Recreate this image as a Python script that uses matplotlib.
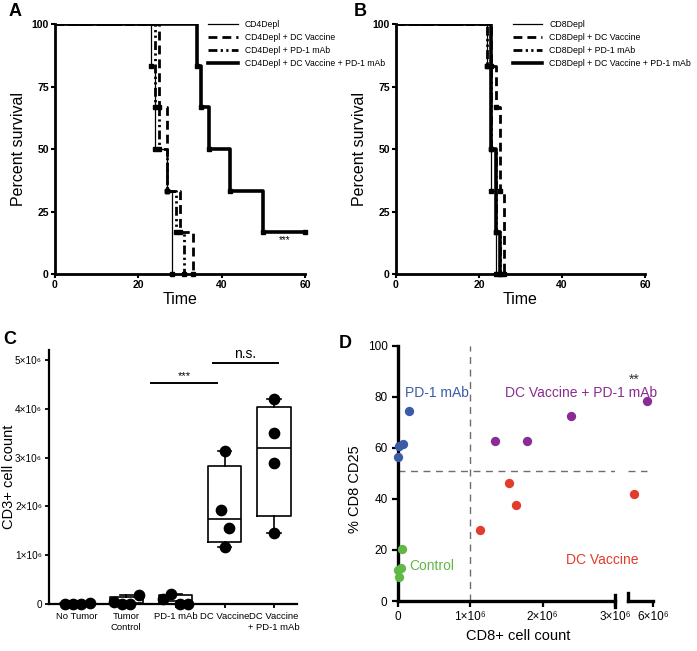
import numpy as np
import matplotlib
matplotlib.use("Agg")
import matplotlib.pyplot as plt
from matplotlib.lines import Line2D

# ---------------- data ----------------
# A: Kaplan-Meier, CD4 depleted mice (death day, survival % after that day)
cd4_labels = ["CD4Depl", "CD4Depl + DC Vaccine", "CD4Depl + PD-1 mAb",
              "CD4Depl + DC Vaccine + PD-1 mAb"]
cd4_times = [[23, 24, 27, 28],
             [25, 27, 30, 33],
             [24, 25, 27, 29, 31],
             [34, 35, 37, 42, 50]]
cd4_surv = [[83.3, 50.0, 33.3, 0.0],
            [66.7, 33.3, 16.7, 0.0],
            [66.7, 50.0, 33.3, 16.7, 0.0],
            [83.3, 66.7, 50.0, 33.3, 16.7]]
cd4_followup = [None, None, None, 60]

# B: Kaplan-Meier, CD8 depleted mice
cd8_labels = ["CD8Depl", "CD8Depl + DC Vaccine", "CD8Depl + PD-1 mAb",
              "CD8Depl + DC Vaccine + PD-1 mAb"]
cd8_times = [[22, 23, 24],
             [23, 24, 25, 26],
             [22, 23, 24, 25],
             [23, 24, 25]]
cd8_surv = [[83.3, 33.3, 0.0],
            [83.3, 66.7, 33.3, 0.0],
            [83.3, 50.0, 16.7, 0.0],
            [50.0, 16.7, 0.0]]

# C: CD3+ cell counts per group
cd3_groups = ["No Tumor", "Tumor\nControl", "PD-1 mAb", "DC Vaccine", "DC Vaccine\n+ PD-1 mAb"]
cd3_counts = [[0.005e6, 0.005e6, 0.005e6, 0.02e6],
              [0.05e6, 0.01e6, 0.01e6, 0.18e6],
              [0.10e6, 0.20e6, 0.01e6, 0.01e6],
              [3.13e6, 1.92e6, 1.56e6, 1.16e6],
              [4.20e6, 3.50e6, 2.88e6, 1.45e6]]
cd3_yticks = [0, 1e6, 2e6, 3e6, 4e6, 5e6]
cd3_yticklabels = ["0", "1×10⁶", "2×10⁶", "3×10⁶", "4×10⁶", "5×10⁶"]

# D: CD8+ count vs % CD8 CD25
d_groups = ["PD-1 mAb", "Control", "DC Vaccine + PD-1 mAb", "DC Vaccine"]
d_colors = ["#3a5ca8", "#62b846", "#8a2c92", "#e33b2c"]
d_x = [[0.15e6, 0.07e6, 0.02e6, 0.0],
       [0.05e6, 0.04e6, 0.005e6, 0.01e6],
       [1.345e6, 1.78e6, 2.39e6, 5.91e6],
       [1.13e6, 1.53e6, 1.63e6, 5.73e6]]
d_y = [[74.5, 61.5, 60.8, 56.5],
       [20.3, 13.1, 12.0, 9.4],
       [62.7, 62.7, 72.5, 78.3],
       [27.7, 46.3, 37.8, 42.1]]
d_xcut = 1e6
d_ycut = 51
d_xticks_left = [0, 1e6, 2e6, 3e6]
d_xticklabels_left = ["0", "1×10⁶", "2×10⁶", "3×10⁶"]
d_xticks_right = [6e6]
d_xticklabels_right = ["6×10⁶"]

plt.rcParams["font.family"] = ["Liberation Sans", "DejaVu Sans"]

fig = plt.figure(figsize=(6.97, 6.51), dpi=100)
fig.patch.set_facecolor("white")

km_styles = [dict(lw=0.9, ls="-"),
             dict(lw=2.0, ls=(0, (3.2, 1.8))),
             dict(lw=2.0, ls=(0, (3.2, 1.2, 0.8, 1.2, 0.8, 1.2))),
             dict(lw=2.6, ls="-")]


def km_panel(ax, times, surv, labels, followup, legend_x, legend_size):
    for i in range(len(times)):
        x = [0] + list(times[i])
        y = [100] + list(surv[i])
        if followup[i] is not None:
            x.append(followup[i])
            y.append(y[-1])
        ax.plot(x, y, drawstyle="steps-post", color="black", **km_styles[i])
        # event symbols at each step
        ax.plot(x[1:], y[1:], ls="none", marker="s", ms=2.4, color="black", clip_on=False)
    ax.set_xlim(0, 60)
    ax.set_ylim(0, 100)
    ax.set_xticks([0, 20, 40, 60])
    ax.set_yticks([0, 25, 50, 75, 100])
    for s in ["top", "right"]:
        ax.spines[s].set_visible(False)
    for s in ["left", "bottom"]:
        ax.spines[s].set_linewidth(2.0)
    ax.tick_params(direction="out", length=3, width=1.5, labelsize=7.5, pad=1.5)
    for lab in ax.get_xticklabels() + ax.get_yticklabels():
        lab.set_fontweight("bold")
    ax.set_xlabel("Time", fontsize=11.5, labelpad=1)
    ax.set_ylabel("Percent survival", fontsize=11.5, labelpad=4)
    handles = [Line2D([0], [0], color="black", **km_styles[i]) for i in range(4)]
    ax.legend(handles, labels, loc="upper left", bbox_to_anchor=(legend_x, 1.03),
              frameon=False, handlelength=3.4, handletextpad=0.8, labelspacing=0.45,
              borderaxespad=0, prop=dict(size=legend_size))


# Panel A
axA = fig.add_axes([0.0789, 0.5791, 0.3587, 0.384])
km_panel(axA, cd4_times, cd4_surv, cd4_labels, cd4_followup, 0.6, 6.2)
axA.text(55, 13.5, "***", ha="center", va="center", fontsize=7)

# Panel B
axB = fig.add_axes([0.5681, 0.5791, 0.3572, 0.384])
km_panel(axB, cd8_times, cd8_surv, cd8_labels, [None] * 4, 0.455, 6.3)

# Panel C: box plots with points
axC = fig.add_axes([0.0703, 0.0722, 0.356, 0.390])
stats = []
for vals in cd3_counts:
    v = np.asarray(vals)
    q1, med, q3 = np.percentile(v, [25, 50, 75], method="weibull")
    stats.append(dict(med=med, q1=q1, q3=q3, whislo=v.min(), whishi=v.max()))
pos = np.arange(len(cd3_groups))
axC.bxp(stats, positions=pos, widths=0.68, capwidths=0.27, showfliers=False,
        boxprops=dict(lw=1.2), medianprops=dict(color="black", lw=1.2),
        whiskerprops=dict(lw=1.2), capprops=dict(lw=1.2))


def swarm_offsets(vals, thresh=0.4e6, step=0.17):
    # spread points that sit close together in y
    vals = np.asarray(vals)
    order = np.argsort(vals)
    offs = np.zeros(len(vals))
    clusters = [[order[0]]]
    for k in order[1:]:
        if vals[k] - vals[clusters[-1][-1]] < thresh:
            clusters[-1].append(k)
        else:
            clusters.append([k])
    for c in clusters:
        c = sorted(c)
        n = len(c)
        for j, k in enumerate(c):
            offs[k] = (j - (n - 1) / 2) * step
    return offs


for i, vals in enumerate(cd3_counts):
    axC.scatter(pos[i] + swarm_offsets(vals), vals, s=55, color="black", zorder=3, clip_on=False)

axC.set_xlim(-0.57, 4.47)
axC.set_ylim(0, 5.2e6)
axC.set_yticks(cd3_yticks)
axC.set_yticklabels(cd3_yticklabels)
axC.set_xticks(pos)
axC.set_xticklabels(cd3_groups, fontsize=6.8)
for s in ["top", "right"]:
    axC.spines[s].set_visible(False)
for s in ["left", "bottom"]:
    axC.spines[s].set_linewidth(1.6)
axC.tick_params(axis="y", direction="out", length=3, width=1.3, labelsize=7.2, pad=2)
axC.tick_params(axis="x", direction="out", length=3, width=1.3, pad=3)
axC.set_ylabel("CD3+ cell count", fontsize=10.5)
axC.yaxis.set_label_coords(-0.132, 0.5)

# significance bars
axC.plot([1.5, 2.85], [4.53e6, 4.53e6], color="black", lw=1.4, clip_on=False)
axC.text(2.17, 4.66e6, "***", ha="center", va="center", fontsize=8)
axC.plot([2.76, 4.08], [4.94e6, 4.94e6], color="black", lw=1.4, clip_on=False)
axC.text(3.42, 5.12e6, "n.s.", ha="center", va="center", fontsize=10)

# Panel D: broken x axis
axL = fig.add_axes([0.571, 0.0768, 0.3113, 0.392])
axR = fig.add_axes([0.901, 0.0768, 0.0359, 0.392], sharey=axL)
axR.patch.set_visible(False)
axL.set_xlim(0, 3e6)
axR.set_xlim(5.65e6, 6.0e6)
axL.set_ylim(0, 100)

for i, g in enumerate(d_groups):
    xs = np.asarray(d_x[i])
    ys = np.asarray(d_y[i])
    left = xs <= 3e6
    axL.scatter(xs[left], ys[left], s=45, color=d_colors[i], zorder=3, clip_on=False, lw=0)
    if (~left).any():
        axR.scatter(xs[~left], ys[~left], s=45, color=d_colors[i], zorder=3, clip_on=False, lw=0)

axL.axvline(d_xcut, color="#6e6e6e", ls=(0, (5, 4)), lw=1.0)
axL.axhline(d_ycut, color="#6e6e6e", ls=(0, (5, 4)), lw=1.0)
axR.axhline(d_ycut, color="#6e6e6e", ls=(0, (5, 4)), lw=1.0, xmax=0.75)

axL.set_yticks([0, 20, 40, 60, 80, 100])
axL.set_xticks(d_xticks_left)
axL.set_xticklabels(d_xticklabels_left)
axR.set_xticks(d_xticks_right)
axR.set_xticklabels(d_xticklabels_right)
for s in ["top", "right"]:
    axL.spines[s].set_visible(False)
for s in ["top", "right", "left"]:
    axR.spines[s].set_visible(False)
axL.spines["left"].set_linewidth(2.4)
axL.spines["bottom"].set_linewidth(2.4)
axR.spines["bottom"].set_linewidth(2.4)
axL.tick_params(direction="out", length=4, width=1.6, labelsize=8.5)
axR.tick_params(axis="x", direction="out", length=4, width=1.6, labelsize=8.5)
axR.tick_params(axis="y", left=False, labelleft=False)
# break marks
axL.plot([1, 1], [-0.022, 0.025], transform=axL.transAxes, color="black", lw=2.4, clip_on=False)
axR.plot([0, 0], [0, 0.03], transform=axR.transAxes, color="black", lw=2.4, clip_on=False)

axL.set_xlabel("CD8+ cell count", fontsize=10.5)
axL.xaxis.label.set_x(0.553)
axL.set_ylabel("% CD8 CD25", fontsize=10.5)
axL.yaxis.label.set_y(0.44)

axL.text(0.54e6, 81.6, "PD-1 mAb", color=d_colors[0], fontsize=10, ha="center", va="center")
axL.text(0.46e6, 13.7, "Control", color=d_colors[1], fontsize=10, ha="center", va="center")
axL.text(2.53e6, 81.6, "DC Vaccine + PD-1 mAb", color=d_colors[2], fontsize=10,
         ha="center", va="center", clip_on=False, zorder=5)
axL.text(2.82e6, 16.0, "DC Vaccine", color=d_colors[3], fontsize=10, ha="center", va="center",
         clip_on=False, zorder=5)
axR.text(5.73e6, 86.5, "**", color="#333333", fontsize=10, ha="center", va="center")

# panel letters
for letter, (x, y) in zip("ABCD", [(15, 12), (360, 12), (10, 340), (345, 343)]):
    fig.text(x / 697, 1 - y / 651, letter, fontsize=13, fontweight="bold",
             ha="center", va="center")

fig.savefig("out.png", dpi=100)
